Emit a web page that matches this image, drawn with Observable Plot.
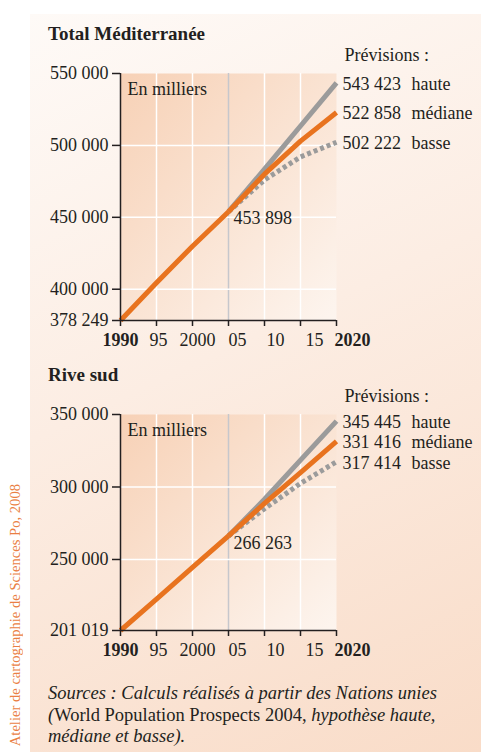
<!DOCTYPE html>
<html><head><meta charset="utf-8">
<script src="https://cdn.jsdelivr.net/npm/d3@7"></script>
<script src="https://cdn.jsdelivr.net/npm/@observablehq/plot@0.6"></script>
<style>
html,body{margin:0;padding:0;background:#fff;}
#page{position:relative;width:481px;height:752px;overflow:hidden;font-family:"Liberation Serif",serif;color:#231f20;}
#panel{position:absolute;left:30px;top:14px;width:451px;height:738px;background:linear-gradient(155deg,#fefaf7 0%,#fcede3 45%,#f9dcc8 100%);}
.title{position:absolute;left:48px;font-weight:bold;font-size:19px;line-height:20px;white-space:nowrap;}
.chart{position:absolute;left:0;}
#credit{position:absolute;left:7px;top:484px;writing-mode:vertical-rl;transform:rotate(180deg);color:#ea7f43;font-size:14.6px;line-height:17px;white-space:nowrap;}
#sources{position:absolute;left:48px;top:683px;font-size:18.5px;line-height:21.5px;white-space:nowrap;}
</style></head>
<body>
<div id="page">
  <div id="panel"></div>
  <div id="credit">Atelier de cartographie de Sciences Po, 2008</div>
  <div class="title" style="top:24px">Total Méditerranée</div>
  <div class="chart" id="c1" style="top:45px"></div>
  <div class="title" style="top:365px">Rive sud</div>
  <div class="chart" id="c2" style="top:384px"></div>
  <div id="sources"><i>Sources : Calculs réalisés à partir des Nations unies</i><br><i>(</i>World Population Prospects 2004, <i>hypothèse haute,</i><br><i>médiane et basse).</i></div>
</div>
<script>
// ---- data ----
const histYears = [1990, 1995, 2000, 2005];
const projYears = [2005, 2010, 2015, 2020];
const scenarioNames = ["haute", "médiane", "basse"];

// Total Méditerranée (milliers)
const medHist    = [378249, 404500, 429900, 453898];
const medHaute   = [453898, 483500, 513500, 543423];
const medMediane = [453898, 480000, 503000, 522858];
const medBasse   = [453898, 476000, 492000, 502222];
const medYTicks  = [378249, 400000, 450000, 500000, 550000];

// Rive sud (milliers)
const sudHist    = [201019, 222600, 244500, 266263];
const sudHaute   = [266263, 291500, 318500, 345445];
const sudMediane = [266263, 288700, 309900, 331416];
const sudBasse   = [266263, 285000, 302500, 317414];
const sudYTicks  = [201019, 250000, 300000, 350000];

const xTicks = [1990, 1995, 2000, 2005, 2010, 2015, 2020];
const xTickLabels = ["1990", "95", "2000", "05", "10", "15", "2020"];

// ---- drawing ----
const ORANGE = "#e8731f", GREY = "#9b9b9b", INK = "#231f20";
const labelShift = [0, 2, 5, 9, 11, 14, 16];
const numFmt = d => d3.format(",")(d).replace(/,/g, " ");

function chart(el, gid, hist, haute, med, basse, yTicks, heightInner, marginTop) {
  const yMin = yTicks[0], yMax = yTicks[yTicks.length - 1];
  const grid = yTicks.slice(1, -1);
  const rows = s => projYears.map((y, i) => ({year: y, value: s[i]}));
  const histRows = histYears.map((y, i) => ({year: y, value: hist[i]}));
  const ends = [haute, med, basse].map((s, i) => ({year: 2020, value: s[s.length - 1], name: scenarioNames[i]}));
  const start = [{year: 2005, value: hist[hist.length - 1]}];
  const marks = [
    Plot.frame({fill: `url(#${gid})`, stroke: null}),
    Plot.ruleX([1995, 2000, 2010, 2015], {stroke: "white", strokeWidth: 1.5}),
    Plot.ruleX([2005], {stroke: "#c6c7cc", strokeWidth: 1.5}),
    Plot.ruleY(grid, {stroke: "white", strokeWidth: 1.5}),
    Plot.line(rows(basse), {x: "year", y: "value", stroke: GREY, strokeWidth: 5, strokeDasharray: "4,3", strokeLinecap: "butt"}),
    Plot.line(rows(haute), {x: "year", y: "value", stroke: GREY, strokeWidth: 5, strokeLinecap: "butt"}),
    Plot.line(rows(med), {x: "year", y: "value", stroke: ORANGE, strokeWidth: 5, strokeLinecap: "butt"}),
    Plot.line(histRows, {x: "year", y: "value", stroke: ORANGE, strokeWidth: 5, strokeLinecap: "butt"}),
    Plot.ruleX([1990], {stroke: INK, strokeWidth: 1.5}),
    Plot.ruleY([yMin], {stroke: INK, strokeWidth: 1.5}),
    Plot.axisY({ticks: yTicks, tickFormat: numFmt, tickSize: 8, tickPadding: 4, label: null, stroke: INK, strokeWidth: 1.5}),
    Plot.axisX({ticks: xTicks, tickFormat: () => "", tickSize: 6, label: null, stroke: INK, strokeWidth: 1.5}),
    Plot.text(["En milliers"], {x: 1990, y: yMax, dx: 7, dy: 16, textAnchor: "start"}),
    Plot.text(["Prévisions :"], {x: 2020, y: yMax, dx: 8, dy: -18, textAnchor: "start"}),
    Plot.text(ends, {x: "year", y: "value", text: d => numFmt(d.value), dx: 6, dy: 1, textAnchor: "start"}),
    Plot.text(ends, {x: "year", y: "value", text: "name", dx: 75, dy: 1, textAnchor: "start"}),
    Plot.text(start, {x: "year", y: "value", text: d => numFmt(d.value), dx: 5, dy: 7, textAnchor: "start"})
  ];
  xTicks.forEach((t, i) => {
    marks.push(Plot.text([xTickLabels[i]], {x: t, y: yMin, dx: labelShift[i], dy: 20, textAnchor: "middle",
      fontWeight: (i === 0 || i === xTicks.length - 1) ? "bold" : "normal"}));
  });
  const svg = Plot.plot({
    width: 481,
    height: marginTop + heightInner + 35,
    marginLeft: 120,
    marginRight: 145,
    marginTop: marginTop,
    marginBottom: 35,
    x: {domain: [1990, 2020]},
    y: {domain: [yMin, yMax]},
    style: {fontFamily: "'Liberation Serif', serif", fontSize: "18px", color: INK, background: "transparent", overflow: "visible"},
    marks
  });
  d3.select(svg).insert("defs", ":first-child").html(
    `<linearGradient id="${gid}" x1="0" y1="0" x2="1" y2="1">
       <stop offset="0" stop-color="#f7d1b6"/><stop offset="1" stop-color="#fdf5ef"/>
     </linearGradient>`);
  document.getElementById(el).appendChild(svg);
}

chart("c1", "g1", medHist, medHaute, medMediane, medBasse, medYTicks, 247, 28);
chart("c2", "g2", sudHist, sudHaute, sudMediane, sudBasse, sudYTicks, 216, 30);
</script>
</body></html>
